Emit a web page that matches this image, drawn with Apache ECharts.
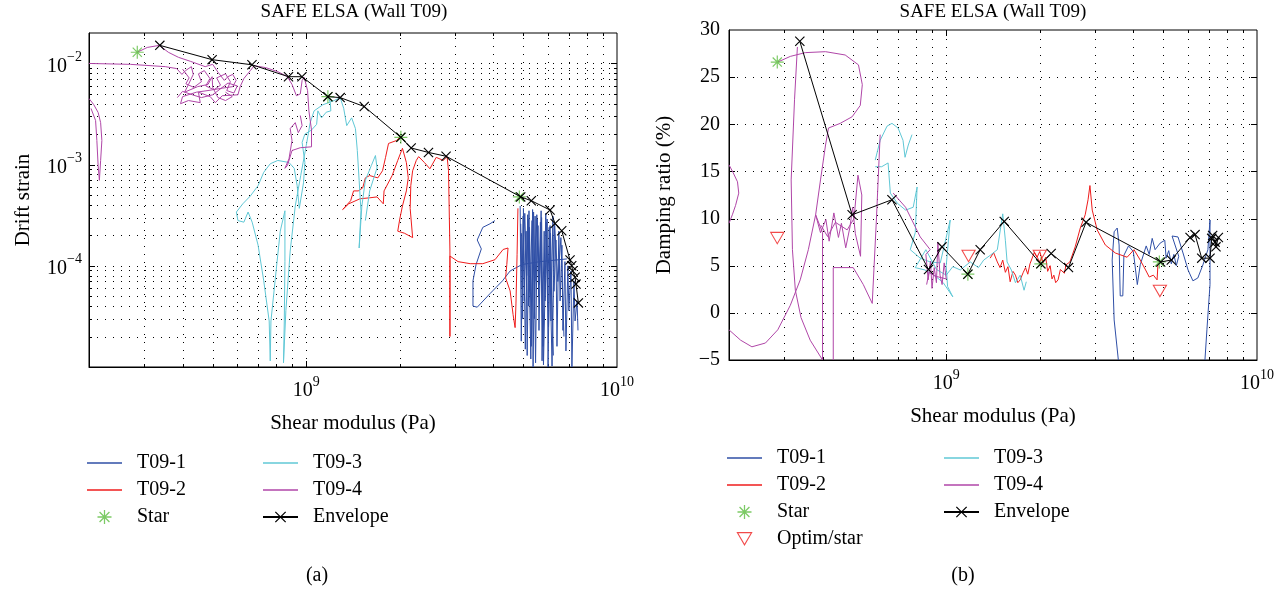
<!DOCTYPE html>
<html>
<head>
<meta charset="utf-8">
<script src="https://cdn.jsdelivr.net/npm/echarts@6/dist/echarts.min.js"></script>
<style>
  html, body { margin: 0; padding: 0; background: #fff; }
  #chart { width: 1287px; height: 593px; }
</style>
</head>
<body>
<div id="chart"></div>
<script>
// envelope points (shared shear modulus, Pa)
const envModulus = [3.38e8, 4.98e8, 6.69e8, 8.77e8, 9.69e8, 1.174e9, 1.286e9, 1.537e9, 2.016e9, 2.176e9, 2.474e9, 2.818e9,
  4.9e9, 5.3e9, 6.09e9, 6.32e9, 6.64e9, 7.06e9, 7.15e9, 7.2e9, 7.33e9, 7.38e9, 7.51e9];
const envDrift = [0.0151, 0.0109, 0.0097, 0.0074, 0.0074, 0.0047, 0.0046, 0.00375, 0.00186, 0.00146, 0.00132, 0.00121,
  0.00048, 0.00044, 0.000356, 0.000262, 0.000222, 0.000114, 0.0001, 8.9e-5, 7.7e-5, 6.6e-5, 4.3e-5];
const envDamping = [28.8, 10.4, 12.0, 4.6, 7.0, 4.1, 6.7, 9.7, 5.2, 6.3, 4.8, 9.6,
  5.4, 5.6, 8.0, 8.3, 5.8, 5.8, 7.9, 8.2, 7.5, 7.0, 8.0];

// star points
const starModulus = [2.86e8, 1.174e9, 2.016e9, 4.85e9];
const starDrift = [0.0129, 0.0047, 0.00186, 0.00048];
const starDamping = [26.6, 4.1, 5.2, 5.4];

// optim/star points (damping only)
const optimModulus = [2.86e8, 1.18e9, 2.0e9, 4.87e9];
const optimDamping = [7.9, 6.0, 6.0, 2.3];

// drift strain traces [G, drift]
const driftT091 = [
  [4.05e9, 2.8e-4], [3.9e9, 2.6e-4], [3.7e9, 2.4e-4], [3.55e9, 1.8e-4], [3.66e9, 1.47e-4], [3.52e9, 1.03e-4],
  [3.44e9, 7.1e-5], [3.44e9, 4.0e-5], [3.55e9, 3.9e-5], [3.9e9, 5.3e-5], [4.28e9, 7.1e-5], [4.53e9, 8.9e-5],
  [4.95e9, 1.03e-4], [5.65e9, 1.1e-4], [6.9e9, 1.17e-4]
];
const driftT091b = [
  [4.88e9, 3.9e-4], [4.92e9, 1.8e-5], [4.99e9, 3.1e-4], [5.03e9, 4.5e-5], [5.1e9, 2.2e-4], [5.14e9, 1.3e-5],
  [5.21e9, 3.5e-4], [5.25e9, 5.6e-5], [5.33e9, 2.8e-4], [5.37e9, 1.0e-5], [5.45e9, 3.1e-4], [5.49e9, 7.1e-5],
  [5.57e9, 2.5e-4], [5.61e9, 2.3e-5], [5.7e9, 3.5e-4], [5.74e9, 1.15e-5], [5.83e9, 2.2e-4], [5.87e9, 4.5e-5],
  [5.96e9, 2.9e-4], [6.0e9, 1.0e-5], [6.09e9, 2.5e-4], [6.13e9, 2.85e-5], [6.22e9, 3.1e-4], [6.27e9, 5.6e-5],
  [6.36e9, 1.8e-4], [6.41e9, 1.6e-5], [6.5e9, 2.2e-4], [6.56e9, 4.5e-5], [6.65e9, 1.6e-4], [6.7e9, 2.3e-5],
  [6.8e9, 1.1e-4], [6.85e9, 1.44e-5], [6.95e9, 1.0e-4], [7.0e9, 3.6e-5], [7.11e9, 8.9e-5], [7.16e9, 1.0e-5],
  [7.27e9, 7.1e-5], [7.33e9, 2.85e-5], [7.44e9, 4.5e-5], [7.49e9, 2.3e-5]
];
const driftT091c = [
  [4.9e9, 2.6e-4], [4.95e9, 6.0e-5], [5.05e9, 3.3e-4], [5.12e9, 8.0e-5], [5.18e9, 2.9e-4], [5.28e9, 1.2e-5],
  [5.35e9, 3.6e-4], [5.42e9, 3.0e-5], [5.52e9, 3.2e-4], [5.6e9, 5.0e-5], [5.67e9, 2.7e-4], [5.78e9, 1.6e-5],
  [5.9e9, 3.3e-4], [5.98e9, 3.9e-5], [6.05e9, 2.4e-4], [6.18e9, 1.02e-5], [6.3e9, 2.6e-4], [6.45e9, 7.0e-5],
  [6.6e9, 1.9e-4], [6.75e9, 2.0e-5]
];
const driftT091d = [
  [4.93e9, 2.1e-4], [4.97e9, 3.0e-5], [5.0e9, 3.7e-4], [5.07e9, 1.5e-5], [5.16e9, 3.2e-4], [5.19e9, 4.0e-5],
  [5.23e9, 2.4e-4], [5.3e9, 1.6e-5], [5.39e9, 3.4e-4], [5.47e9, 1.1e-5], [5.54e9, 2.9e-4], [5.63e9, 6.5e-5],
  [5.72e9, 3.0e-4], [5.8e9, 1.05e-5], [5.93e9, 2.7e-4], [6.02e9, 2.5e-5], [6.11e9, 2.1e-4], [6.24e9, 1.3e-5]
];
const driftT092 = [
  [2.0e9, 0.00186], [1.95e9, 0.00173], [1.84e9, 0.00162], [1.8e9, 0.00118], [1.76e9, 0.00087], [1.7e9, 0.00074],
  [1.6e9, 0.00078], [1.55e9, 0.00074], [1.52e9, 0.00059], [1.47e9, 0.00055], [1.42e9, 0.00055], [1.39e9, 0.00044],
  [1.31e9, 0.00036], [1.37e9, 0.00041], [1.49e9, 0.00046], [1.6e9, 0.00047], [1.69e9, 0.00048], [1.77e9, 0.00041],
  [1.78e9, 0.00055], [1.89e9, 0.00078], [1.97e9, 0.0011], [2.04e9, 0.00145], [2.1e9, 0.00105], [2.13e9, 0.00074],
  [2.1e9, 0.00055], [2.04e9, 0.00039], [2.0e9, 0.00029], [1.97e9, 0.00022], [2.07e9, 0.00021], [2.2e9, 0.00019],
  [2.16e9, 0.00037], [2.17e9, 0.00062], [2.2e9, 0.00087], [2.26e9, 0.0011], [2.3e9, 0.0012], [2.4e9, 0.00105],
  [2.5e9, 0.00091], [2.62e9, 0.00118], [2.76e9, 0.0011], [2.84e9, 0.0012], [2.87e9, 0.00087], [2.9e9, 0.00014],
  [2.9e9, 2.0e-5], [2.9e9, 1.25e-4], [3.08e9, 1.1e-4], [3.37e9, 1.05e-4], [3.7e9, 1.05e-4], [4.05e9, 1.15e-4],
  [4.3e9, 1.45e-4], [4.46e9, 1.5e-4], [4.42e9, 1.03e-4], [4.38e9, 7.6e-5], [4.53e9, 5.65e-5], [4.63e9, 3.3e-5],
  [4.7e9, 2.45e-5], [4.73e9, 4.2e-5], [4.77e9, 1.3e-4], [4.8e9, 3.7e-4]
];
const driftT093 = [
  [1.175e9, 0.0047], [1.195e9, 0.0041], [1.2e9, 0.0034], [1.16e9, 0.0033], [1.12e9, 0.0029], [1.09e9, 0.0034],
  [1.08e9, 0.0025], [1.04e9, 0.0022], [9.9e8, 0.002], [9.7e8, 0.00166], [9.9e8, 0.00105], [9.8e8, 0.00066],
  [9.5e8, 0.00037], [9.35e8, 0.00062], [9.15e8, 0.00092], [8.8e8, 0.00105], [8.1e8, 0.0011], [7.66e8, 0.00102],
  [7.3e8, 0.00084], [7.0e8, 0.00062], [6.61e8, 0.00049], [6.25e8, 0.00041], [5.96e8, 0.00034], [6.03e8, 0.00028],
  [6.3e8, 0.00027], [6.5e8, 0.00034], [6.7e8, 0.00027], [7.0e8, 0.00016], [7.3e8, 7.1e-5], [7.6e8, 2.85e-5],
  [7.66e8, 1.15e-5], [7.7e8, 2.85e-5], [8.0e8, 8.9e-5], [8.25e8, 0.00022], [8.54e8, 0.00035], [8.54e8, 0.00011],
  [8.5e8, 2.85e-5], [8.45e8, 1.1e-5], [8.6e8, 3.6e-5], [8.88e8, 0.00014], [9.22e8, 0.00039], [9.6e8, 0.00078],
  [1.0e9, 0.00154], [1.03e9, 0.0026], [1.06e9, 0.0034], [1.13e9, 0.0039], [1.23e9, 0.0043], [1.286e9, 0.0046],
  [1.32e9, 0.0036], [1.35e9, 0.00243], [1.4e9, 0.0029], [1.44e9, 0.00227], [1.46e9, 0.00138], [1.48e9, 0.0007],
  [1.5e9, 0.00035], [1.48e9, 0.00015], [1.51e9, 0.00039], [1.55e9, 0.0007], [1.62e9, 0.00098], [1.67e9, 0.00123],
  [1.69e9, 0.00093], [1.6e9, 0.00055], [1.55e9, 0.00028]
];
const driftT094 = [
  [2.86e8, 0.0129], [3.08e8, 0.0144], [3.37e8, 0.0151], [3.6e8, 0.0129], [3.88e8, 0.0115], [4.24e8, 0.0105],
  [4.73e8, 0.0093], [5.0e8, 0.0098], [5.2e8, 0.0082], [5.45e8, 0.0068], [5.6e8, 0.0074], [5.8e8, 0.0078],
  [5.95e8, 0.0068], [5.8e8, 0.0059], [5.37e8, 0.0057], [4.83e8, 0.0054], [4.43e8, 0.0052], [4.0e8, 0.0047],
  [3.94e8, 0.004], [4.18e8, 0.0043], [4.56e8, 0.0041], [4.5e8, 0.0052], [4.91e8, 0.0047], [5.1e8, 0.0041],
  [5.37e8, 0.0048], [6.03e8, 0.0049], [6.13e8, 0.0059], [6.3e8, 0.0071], [6.61e8, 0.0085], [6.8e8, 0.0095],
  [7.4e8, 0.0091], [8.1e8, 0.0083], [8.7e8, 0.0074], [9.0e8, 0.0062], [9.3e8, 0.0048], [9.57e8, 0.005],
  [9.7e8, 0.0068], [9.85e8, 0.0073], [1.01e9, 0.0054], [1.02e9, 0.0034], [1.04e9, 0.0022], [1.04e9, 0.0015],
  [9.57e8, 0.00147], [9.0e8, 0.00138], [8.7e8, 0.00098], [8.54e8, 0.00092], [8.8e8, 0.00114], [9.0e8, 0.00173],
  [8.88e8, 0.00227], [9.22e8, 0.0026], [9.43e8, 0.00207], [9.7e8, 0.00243], [9.57e8, 0.00306]
];
const driftT094b = [
  [2.0e8, 0.01], [2.72e8, 0.0098], [3.52e8, 0.0093], [3.83e8, 0.0089], [3.98e8, 0.0078], [4.09e8, 0.0085],
  [4.27e8, 0.0093], [4.33e8, 0.0078], [4.18e8, 0.0062], [4.06e8, 0.0052], [4.47e8, 0.0059], [4.83e8, 0.0062],
  [4.98e8, 0.0074], [5.0e8, 0.0058], [5.2e8, 0.0046], [5.5e8, 0.0043], [5.78e8, 0.0047], [5.5e8, 0.0052]
];
const driftT094c = [
  [2.0e8, 0.0045], [2.07e8, 0.00393], [2.14e8, 0.00328], [2.18e8, 0.0026], [2.2e8, 0.00173], [2.18e8, 0.0011],
  [2.16e8, 0.0007], [2.14e8, 0.00098], [2.12e8, 0.00173], [2.1e8, 0.00273], [2.03e8, 0.00359]
];
const driftT094d = [
  [4.0e8, 0.0088], [4.2e8, 0.0072], [4.1e8, 0.0063], [4.35e8, 0.0058], [4.6e8, 0.0066], [4.5e8, 0.0079],
  [4.7e8, 0.0085], [4.9e8, 0.0071], [4.75e8, 0.006], [5.05e8, 0.0055], [5.3e8, 0.0061], [5.15e8, 0.0072],
  [5.5e8, 0.0079], [5.7e8, 0.0066], [5.55e8, 0.0054], [5.85e8, 0.0051], [6.0e8, 0.006], [5.6e8, 0.0064],
  [5.0e8, 0.0049], [4.6e8, 0.0046], [4.3e8, 0.0049], [4.0e8, 0.0053], [3.85e8, 0.0046]
];

// damping ratio traces [G, damping %]
const dampT091 = [
  [3.58e9, -5], [3.47e9, -0.75], [3.42e9, 5.6], [3.47e9, 8.6], [3.55e9, 9.0], [3.6e9, 7.2], [3.63e9, 1.8],
  [3.7e9, 1.8], [3.73e9, 6.1], [3.86e9, 7.1], [4.0e9, 6.5], [4.12e9, 3.0], [4.21e9, 5.1], [4.4e9, 7.1],
  [4.5e9, 6.2], [4.6e9, 7.9], [4.7e9, 6.7], [4.88e9, 7.4], [5.05e9, 7.7], [5.1e9, 5.8], [5.2e9, 6.6],
  [5.3e9, 5.2], [5.4e9, 6.2], [5.5e9, 5.0], [5.6e9, 6.0], [5.33e9, 8.15], [5.57e9, 8.05], [5.78e9, 6.35],
  [6.0e9, 4.55], [6.22e9, 3.4], [6.45e9, 3.7], [6.7e9, 5.1], [6.95e9, 6.7], [7.06e9, 9.85], [7.06e9, 3.0],
  [6.9e9, -1.8], [6.8e9, -5]
];
const dampT092 = [
  [1.385e9, 5.8], [1.42e9, 6.4], [1.46e9, 5.4], [1.49e9, 4.8], [1.52e9, 5.6], [1.55e9, 4.3], [1.58e9, 4.9],
  [1.606e9, 3.3], [1.64e9, 4.4], [1.67e9, 4.0], [1.7e9, 3.2], [1.73e9, 3.5], [1.77e9, 4.3], [1.8e9, 4.8],
  [1.83e9, 4.1], [1.86e9, 5.2], [1.89e9, 5.8], [1.92e9, 6.4], [1.96e9, 5.9], [2.0e9, 6.5], [2.05e9, 5.3],
  [2.09e9, 5.9], [2.12e9, 4.4], [2.16e9, 5.0], [2.19e9, 3.6], [2.22e9, 4.0], [2.25e9, 3.2], [2.29e9, 3.5],
  [2.33e9, 4.6], [2.36e9, 4.8], [2.4e9, 4.2], [2.43e9, 5.1], [2.5e9, 5.4], [2.6e9, 7.0], [2.7e9, 9.0],
  [2.8e9, 10.4], [2.86e9, 12.0], [2.9e9, 13.5], [2.95e9, 10.9], [3.06e9, 8.8], [3.25e9, 7.2], [3.5e9, 6.35],
  [3.82e9, 5.9], [4.02e9, 6.7], [4.21e9, 5.6], [4.38e9, 4.55], [4.5e9, 3.8], [4.64e9, 4.0], [4.77e9, 3.5],
  [4.8e9, 5.1]
];
const dampT093 = [
  [5.91e8, 16.2], [6.13e8, 18.3], [6.45e8, 19.8], [6.69e8, 20.1], [7.0e8, 19.6], [7.26e8, 18.3], [7.37e8, 16.5],
  [7.55e8, 17.8], [7.76e8, 18.9]
];
const dampT093b = [
  [5.91e8, 15.5], [6.2e8, 15.5], [6.5e8, 15.9], [6.61e8, 12.7], [6.95e8, 11.65], [7.4e8, 10.9], [7.83e8, 11.2],
  [8.06e8, 13.35], [7.95e8, 8.5], [7.66e8, 6.7], [8.25e8, 5.8], [8.88e8, 5.4], [9.57e8, 5.3], [1.03e9, 9.85],
  [1.0e9, 5.0], [1.01e9, 2.8], [1.05e9, 1.7], [9.78e8, 3.2], [9.22e8, 3.9], [8.54e8, 4.55], [7.95e8, 4.8],
  [8.6e8, 6.7], [9.3e8, 4.6], [1.0e9, 4.0], [1.05e9, 4.9], [1.11e9, 4.55], [1.195e9, 5.4], [1.27e9, 4.8],
  [1.32e9, 5.6], [1.385e9, 6.1], [1.46e9, 6.7], [1.52e9, 10.5], [1.55e9, 7.7], [1.57e9, 5.4], [1.62e9, 4.55],
  [1.67e9, 3.2], [1.73e9, 4.0], [1.78e9, 2.4], [1.81e9, 3.3]
];
const dampT094 = [
  [2.0e8, 15.7], [2.06e8, 14.9], [2.13e8, 13.9], [2.15e8, 12.7], [2.1e8, 11.4], [2.05e8, 10.4], [2.0e8, 9.5]
];
const dampT094b = [
  [2.0e8, -1.8], [2.18e8, -2.9], [2.37e8, -3.6], [2.62e8, -3.2], [2.87e8, -1.8], [3.15e8, 0.8], [3.39e8, 3.5],
  [3.6e8, 6.7], [3.8e8, 10.4], [3.94e8, 14.1], [4.09e8, 17.8], [4.18e8, 19.6], [4.56e8, 20.1], [4.98e8, 20.8],
  [5.29e8, 22.0], [5.37e8, 24.2], [5.22e8, 26.3], [4.73e8, 27.35], [4.09e8, 27.7], [3.52e8, 27.6], [3.15e8, 27.2],
  [2.87e8, 26.6]
];
const dampT094c = [
  [3.32e8, 28.2], [3.25e8, 22.6], [3.17e8, 14.1], [3.2e8, 6.7], [3.27e8, 2.4], [3.41e8, -0.5], [3.65e8, -2.9],
  [4.0e8, -5]
];
const dampT094d = [
  [4.0e8, -5], [4.0e8, 8.5], [3.8e8, 10.4], [3.94e8, 8.5], [4.1e8, 9.9], [4.2e8, 7.6], [4.35e8, 10.6], [4.5e8, 8.0],
  [4.6e8, 9.5], [4.75e8, 6.9], [4.9e8, 9.1], [5.0e8, 11.2], [5.1e8, 8.4], [5.3e8, 6.0], [5.35e8, 12.5],
  [5.2e8, 14.6], [5.05e8, 10.0], [4.8e8, 8.8], [4.4e8, 9.6], [4.15e8, 8.1], [3.95e8, 9.3]
];
const dampT094e = [
  [4.33e8, -5], [4.33e8, 4.8], [5.02e8, 4.8], [5.41e8, 3.0], [5.78e8, 1.0], [5.96e8, 9.85], [6.13e8, 18.9]
];
const dampT094f = [
  [6.75e8, 12.7], [7.4e8, 11.2], [8.25e8, 8.05], [8.88e8, 6.7], [8.6e8, 6.2], [8.75e8, 3.5], [8.9e8, 5.5],
  [9.0e8, 2.6], [9.15e8, 4.8], [9.3e8, 3.2], [9.4e8, 7.5], [9.55e8, 4.0], [9.7e8, 3.0], [9.85e8, 5.3],
  [1.0e9, 3.6], [9.2e8, 3.9], [8.8e8, 4.3], [8.65e8, 3.0]
];

// grid / tick values
const gridModulus = [3e8, 4e8, 5e8, 6e8, 7e8, 8e8, 9e8, 1e9, 2e9, 3e9, 4e9, 5e9, 6e9, 7e9, 8e9, 9e9];
const gridDrift = [2e-5, 3e-5, 4e-5, 5e-5, 6e-5, 7e-5, 8e-5, 9e-5, 1e-4, 2e-4, 3e-4, 4e-4, 5e-4, 6e-4, 7e-4, 8e-4, 9e-4,
  1e-3, 2e-3, 3e-3, 4e-3, 5e-3, 6e-3, 7e-3, 8e-3, 9e-3, 1e-2];
const gridDamping = [0, 5, 10, 15, 20, 25];

const C1 = '#2f4fa6', C2 = '#ef1c1c', C3 = '#60c8d6', C4 = '#b046a8', CS = '#5bbd3f';
const SERIF = '"Liberation Serif", "DejaVu Serif", serif';

const starPath = 'path://M0,9.1H20V10.9H0Z M9.1,0H10.9V20H9.1Z M2.3,3.6L3.6,2.3L17.7,16.4L16.4,17.7Z M16.4,2.3L17.7,3.6L3.6,17.7L2.3,16.4Z';
const crossPath = 'path://M0,0.8L0.8,0L10,9.2L9.2,10Z M9.2,0L10,0.8L0.8,10L0,9.2Z';
const triPath = 'path://M0,0L20,0L10,17.3Z M2.43,1.4L10,14.5L17.57,1.4Z';
const lineIcon = 'path://M0,0H35V1.4H0Z';

let myChart = echarts.init(document.getElementById('chart'));

function isMajor(v) {
  let e = Math.log10(Math.abs(v));
  return Math.abs(e - Math.round(e)) < 1e-6;
}

function trace(name, color, data, idx) {
  return {
    type: 'line', name: name, xAxisIndex: idx, yAxisIndex: idx, data: data,
    symbol: 'none', showSymbol: false, smooth: false,
    lineStyle: { color: color, width: 1 }, itemStyle: { color: color }, z: 2
  };
}

// dotted grid + ticks on all four sides, drawn through the axes
function gridSeries(idx, xRef, yRef, xVals, yVals, yLog) {
  let data = [];
  xVals.forEach(v => data.push([v, yRef, 0, isMajor(v) ? 1 : 0]));
  yVals.forEach(v => data.push([xRef, v, 1, yLog ? (isMajor(v) ? 1 : 0) : 1]));
  return {
    type: 'custom', name: 'grid' + idx, xAxisIndex: idx, yAxisIndex: idx, silent: true, z: 1,
    data: data,
    renderItem: function (params, api) {
      const cs = params.coordSys;
      const pt = api.coord([api.value(0), api.value(1)]);
      const dir = api.value(2);
      const len = api.value(3) ? 6 : 3;
      const dot = { stroke: '#000', lineWidth: 1, lineDash: [1, 7] };
      const solid = { stroke: '#000', lineWidth: 1 };
      if (dir === 0) {
        const x = Math.round(pt[0]) + 0.5;
        const yt = cs.y, yb = cs.y + cs.height;
        return { type: 'group', children: [
          { type: 'line', shape: { x1: x, y1: yb, x2: x, y2: yt }, style: dot },
          { type: 'line', shape: { x1: x, y1: yb, x2: x, y2: yb - len }, style: solid },
          { type: 'line', shape: { x1: x, y1: yt, x2: x, y2: yt + len }, style: solid }
        ] };
      }
      const y = Math.round(pt[1]) + 0.5;
      const xl = cs.x, xr = cs.x + cs.width;
      return { type: 'group', children: [
        { type: 'line', shape: { x1: xl, y1: y, x2: xr, y2: y }, style: dot },
        { type: 'line', shape: { x1: xl, y1: y, x2: xl + len, y2: y }, style: solid },
        { type: 'line', shape: { x1: xr, y1: y, x2: xr - len, y2: y }, style: solid }
      ] };
    }
  };
}

function supLabel(base, exp) {
  return '{b|' + base + '}{s|' + exp + '}';
}
const richSup = {
  b: { fontFamily: SERIF, fontSize: 20, color: '#000', lineHeight: 26, verticalAlign: 'bottom' },
  s: { fontFamily: SERIF, fontSize: 14, color: '#000', lineHeight: 16, verticalAlign: 'top' }
};

function logXLabel(v) {
  let e = Math.log10(v);
  let r = Math.round(e);
  if (Math.abs(e - r) > 1e-6 || r < 9) return '';
  return supLabel('10', String(r));
}
function logYLabel(v) {
  let e = Math.log10(v);
  let r = Math.round(e);
  if (Math.abs(e - r) > 1e-6 || r < -4) return '';
  return supLabel('10', '\u2212' + (-r));
}

const baseAxis = {
  axisLine: { show: true, onZero: false, lineStyle: { color: '#000', width: 1 } },
  axisTick: { show: false },
  splitLine: { show: false },
  nameTextStyle: { fontFamily: SERIF, fontSize: 21, color: '#000' },
  nameLocation: 'middle'
};

const legendBase = {
  orient: 'vertical', padding: 0, itemWidth: 35, itemHeight: 14, itemGap: 7, selectedMode: false,
  textStyle: { fontFamily: SERIF, fontSize: 20, color: '#000', lineHeight: 20, padding: [0, 0, 0, 10] }
};

let option = {
  animation: false,
  backgroundColor: '#fff',
  textStyle: { fontFamily: SERIF },
  grid: [
    { left: 89, top: 33, width: 528, height: 334, show: true, borderColor: '#000', borderWidth: 1, backgroundColor: 'transparent' },
    { left: 729, top: 30, width: 528, height: 330, show: true, borderColor: '#000', borderWidth: 1, backgroundColor: 'transparent' }
  ],
  xAxis: [
    Object.assign({}, baseAxis, {
      type: 'log', logBase: 10, gridIndex: 0, min: 2e8, max: 1e10,
      name: 'Shear modulus (Pa)', nameGap: 46,
      axisLabel: { formatter: logXLabel, rich: richSup, margin: 8, showMinLabel: false }
    }),
    Object.assign({}, baseAxis, {
      type: 'log', logBase: 10, gridIndex: 1, min: 2e8, max: 1e10,
      name: 'Shear modulus (Pa)', nameGap: 46,
      axisLabel: { formatter: logXLabel, rich: richSup, margin: 8, showMinLabel: false }
    })
  ],
  yAxis: [
    Object.assign({}, baseAxis, {
      type: 'log', logBase: 10, gridIndex: 0, min: 1e-5, max: 0.02,
      name: 'Drift strain', nameGap: 55,
      axisLabel: { formatter: logYLabel, rich: richSup, margin: 7, showMinLabel: false, showMaxLabel: false }
    }),
    Object.assign({}, baseAxis, {
      type: 'value', gridIndex: 1, min: -5, max: 30, interval: 5,
      name: 'Damping ratio (%)', nameGap: 54,
      axisLabel: {
        fontFamily: SERIF, fontSize: 20, color: '#000', margin: 9,
        formatter: v => (v < 0 ? '\u2212' + (-v) : String(v))
      }
    })
  ],
  legend: [
    Object.assign({}, legendBase, {
      left: 87, top: 453,
      data: [{ name: 'T09-1', icon: lineIcon }, { name: 'T09-2', icon: lineIcon }, 'Star']
    }),
    Object.assign({}, legendBase, {
      left: 262, top: 453,
      data: [{ name: 'T09-3', icon: lineIcon }, { name: 'T09-4', icon: lineIcon }, 'Envelope']
    }),
    Object.assign({}, legendBase, {
      left: 727, top: 448,
      data: [{ name: 'T09-1', icon: lineIcon }, { name: 'T09-2', icon: lineIcon }, 'Star', 'Optim/star']
    }),
    Object.assign({}, legendBase, {
      left: 943, top: 448,
      data: [{ name: 'T09-3', icon: lineIcon }, { name: 'T09-4', icon: lineIcon }, 'Envelope']
    })
  ],
  graphic: [
    { type: 'text', x: 354, y: 3, style: { text: 'SAFE ELSA (Wall T09)', font: '19px ' + SERIF, fill: '#000', textAlign: 'center' } },
    { type: 'text', x: 993, y: 3, style: { text: 'SAFE ELSA (Wall T09)', font: '19px ' + SERIF, fill: '#000', textAlign: 'center' } },
    { type: 'text', x: 317, y: 566, style: { text: '(a)', font: '20px ' + SERIF, fill: '#000', textAlign: 'center' } },
    { type: 'text', x: 963, y: 566, style: { text: '(b)', font: '20px ' + SERIF, fill: '#000', textAlign: 'center' } }
  ],
  series: [
    gridSeries(0, 1e9, 1e-3, gridModulus, gridDrift, true),
    gridSeries(1, 1e9, 10, gridModulus, gridDamping, false),
    // (a) drift strain
    trace('T09-1', C1, driftT091, 0),
    trace('T09-1', C1, driftT091b, 0),
    trace('T09-1', C1, driftT091c, 0),
    trace('T09-1', C1, driftT091d, 0),
    trace('T09-2', C2, driftT092, 0),
    trace('T09-3', C3, driftT093, 0),
    trace('T09-4', C4, driftT094, 0),
    trace('T09-4', C4, driftT094b, 0),
    trace('T09-4', C4, driftT094c, 0),
    trace('T09-4', C4, driftT094d, 0),
    {
      type: 'scatter', name: 'Star', xAxisIndex: 0, yAxisIndex: 0,
      data: starModulus.map((g, i) => [g, starDrift[i]]),
      symbol: starPath, symbolSize: 13, itemStyle: { color: CS }, z: 3
    },
    {
      type: 'line', name: 'Envelope', xAxisIndex: 0, yAxisIndex: 0,
      data: envModulus.map((g, i) => [g, envDrift[i]]),
      symbol: crossPath, symbolSize: 10, showSymbol: true,
      lineStyle: { color: '#000', width: 1 }, itemStyle: { color: '#000' }, z: 4
    },
    // (b) damping ratio
    trace('T09-1', C1, dampT091, 1),
    trace('T09-2', C2, dampT092, 1),
    trace('T09-3', C3, dampT093, 1),
    trace('T09-3', C3, dampT093b, 1),
    trace('T09-4', C4, dampT094, 1),
    trace('T09-4', C4, dampT094b, 1),
    trace('T09-4', C4, dampT094c, 1),
    trace('T09-4', C4, dampT094d, 1),
    trace('T09-4', C4, dampT094e, 1),
    trace('T09-4', C4, dampT094f, 1),
    {
      type: 'scatter', name: 'Star', xAxisIndex: 1, yAxisIndex: 1,
      data: starModulus.map((g, i) => [g, starDamping[i]]),
      symbol: starPath, symbolSize: 13, itemStyle: { color: CS }, z: 3
    },
    {
      type: 'scatter', name: 'Optim/star', xAxisIndex: 1, yAxisIndex: 1,
      data: optimModulus.map((g, i) => [g, optimDamping[i]]),
      symbol: triPath, symbolSize: [15, 13],
      itemStyle: { color: C2 }, z: 3
    },
    {
      type: 'line', name: 'Envelope', xAxisIndex: 1, yAxisIndex: 1,
      data: envModulus.map((g, i) => [g, envDamping[i]]),
      symbol: crossPath, symbolSize: 10, showSymbol: true,
      lineStyle: { color: '#000', width: 1 }, itemStyle: { color: '#000' }, z: 4
    }
  ]
};
myChart.setOption(option);
window.onresize = myChart.resize;
</script>
</body>
</html>
